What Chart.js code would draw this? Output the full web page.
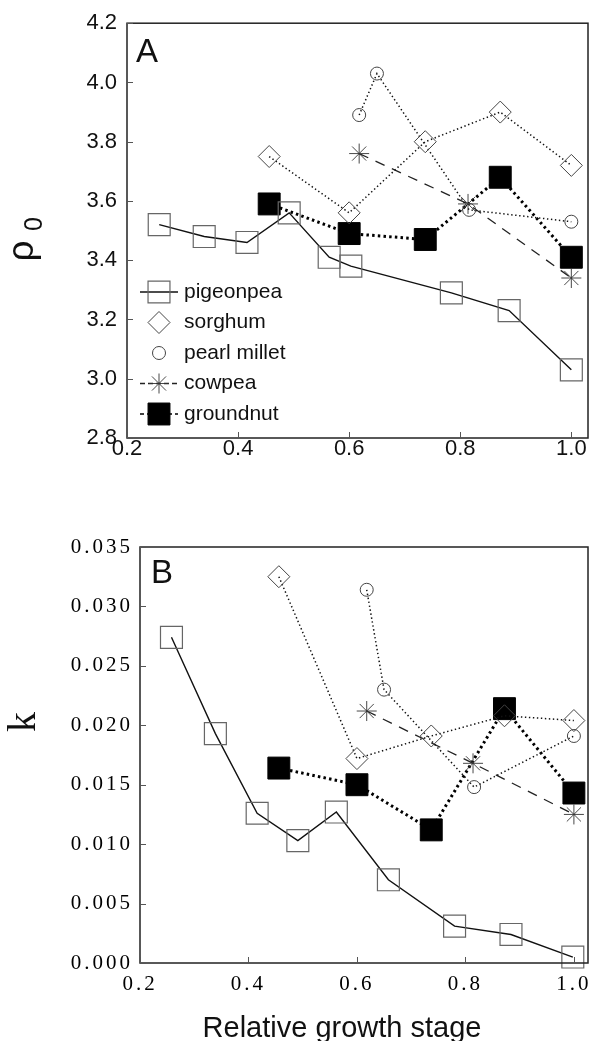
<!DOCTYPE html>
<html>
<head>
<meta charset="utf-8">
<script src="https://cdn.jsdelivr.net/npm/chart.js@4.4.1/dist/chart.umd.min.js"></script>
<style>
  html, body { margin: 0; padding: 0; background: #fff; }
  #wrap { position: relative; width: 590px; height: 1041px; overflow: hidden; }
  canvas { position: absolute; left: 0; }
  #chartA { top: 0; }
  #chartB { top: 490px; }
</style>
</head>
<body>
<div id="wrap">
  <canvas id="chartA" width="590" height="490"></canvas>
  <canvas id="chartB" width="590" height="551"></canvas>
</div>
<script>
// --- values ---
const SPECIES = ['pigeonpea', 'sorghum', 'pearl millet', 'cowpea', 'groundnut'];

const stageTicks = [0.2, 0.4, 0.6, 0.8, 1.0];
const rhoTicks = [2.8, 3.0, 3.2, 3.4, 3.6, 3.8, 4.0, 4.2];
const kTicks = [0, 0.005, 0.010, 0.015, 0.020, 0.025, 0.030, 0.035];

// relative growth stage (x)
const pigeonpeaStageA = [0.258, 0.339, 0.416, 0.492, 0.564, 0.603, 0.784, 0.888, 1.0];
const pigeonpeaStageB = [0.258, 0.339, 0.416, 0.491, 0.562, 0.658, 0.780, 0.884, 0.998];
const sorghumStage = [0.456, 0.600, 0.737, 0.872, 1.0];
const milletStage = [0.618, 0.650, 0.816, 1.0];
const cowpeaStage = [0.618, 0.814, 1.0];
const groundnutStage = [0.456, 0.600, 0.737, 0.872, 1.0];

// panel A: rho0
const pigeonpeaRho = [3.52, 3.48, 3.46, 3.56, 3.41, 3.38, 3.29, 3.23, 3.03];
const sorghumRho = [3.75, 3.56, 3.80, 3.90, 3.72];
const milletRho = [3.89, 4.03, 3.57, 3.53];
const cowpeaRho = [3.76, 3.59, 3.34];
const groundnutRho = [3.59, 3.49, 3.47, 3.68, 3.41];

// panel B: k
const pigeonpeaK = [0.0274, 0.0193, 0.0126, 0.0103, 0.0127, 0.0070, 0.0031, 0.0024, 0.0005];
const sorghumK = [0.0325, 0.0172, 0.0191, 0.0208, 0.0204];
const milletK = [0.0314, 0.0230, 0.0148, 0.0191];
const cowpeaK = [0.0212, 0.0168, 0.0125];
const groundnutK = [0.0164, 0.0150, 0.0112, 0.0214, 0.0143];

const xTitle = 'Relative growth stage';

// line + marker look for each species (same order as SPECIES)
const STYLES = [
  { line: '#111', width: 1.4, dash: [], point: 'rect', r: 15.5, fill: 'rgba(255,255,255,0)', edge: '#666', edgeW: 1.2, legendLine: true },
  { line: '#111', width: 1.5, dash: [1.4, 2.6], point: 'rectRot', r: 11, fill: 'rgba(255,255,255,0)', edge: '#444', edgeW: 1, legendLine: false },
  { line: '#111', width: 1.5, dash: [1.4, 2.6], point: 'circle', r: 6.5, fill: 'rgba(255,255,255,0)', edge: '#444', edgeW: 1, legendLine: false },
  { line: '#222', width: 1.3, dash: [10, 8], point: 'star', r: 10, fill: 'rgba(255,255,255,0)', edge: '#333', edgeW: 0.9, legendLine: true },
  { line: '#000', width: 3, dash: [2.5, 3.2], point: 'rect', r: 15.5, fill: '#000', edge: '#000', edgeW: 1, legendLine: true }
];

const SANS = "'Liberation Sans', Arial, sans-serif";
const SERIF = "'Liberation Serif', 'Times New Roman', serif";

function makeDatasets(stages, values) {
  return SPECIES.map((name, i) => {
    const s = STYLES[i];
    return {
      label: name,
      data: stages[i].map((x, j) => ({ x, y: values[i][j] })),
      borderColor: s.line,
      borderWidth: s.width,
      borderDash: s.dash,
      borderCapStyle: 'butt',
      pointStyle: s.point,
      pointRadius: s.r,
      pointHoverRadius: s.r,
      pointBackgroundColor: s.fill,
      pointBorderColor: s.edge,
      pointBorderWidth: s.edgeW,
      tension: 0,
      fill: false,
      clip: false
    };
  });
}

// box round the plot plus short inward tick marks
const framePlugin = {
  id: 'frame',
  afterDraw(chart) {
    const { ctx, chartArea: a, scales: { x, y } } = chart;
    ctx.save();
    ctx.letterSpacing = '0px';
    ctx.setLineDash([]);
    ctx.strokeStyle = '#222';
    ctx.lineWidth = 1.5;
    ctx.strokeRect(a.left, a.top, a.right - a.left, a.bottom - a.top);
    ctx.strokeStyle = '#555';
    ctx.lineWidth = 1;
    ctx.beginPath();
    y.ticks.forEach((t) => {
      const py = Math.round(y.getPixelForValue(t.value)) + 0.5;
      ctx.moveTo(a.left, py); ctx.lineTo(a.left + 6, py);
    });
    x.ticks.forEach((t) => {
      const px = Math.round(x.getPixelForValue(t.value)) + 0.5;
      ctx.moveTo(px, a.bottom); ctx.lineTo(px, a.bottom - 6);
    });
    ctx.stroke();
    ctx.restore();
  }
};

// legend drawn inside panel A, lower left
function drawLegend(chart) {
  const ctx = chart.ctx;
  const cx = 159, lx0 = 140, lx1 = 178, tx = 184;
  chart.data.datasets.forEach((ds, i) => {
    const yy = 292 + i * 30.5;
    const s = STYLES[i];
    ctx.save();
    if (s.legendLine) {
      ctx.strokeStyle = ds.borderColor;
      ctx.lineWidth = Math.min(ds.borderWidth, 1.5);
      ctx.setLineDash(i === 3 ? [5, 3] : i === 4 ? [4, 3] : []);
      ctx.beginPath();
      ctx.moveTo(lx0, yy); ctx.lineTo(lx1, yy);
      ctx.stroke();
    }
    ctx.setLineDash([]);
    ctx.fillStyle = ds.pointBackgroundColor;
    ctx.strokeStyle = ds.pointBorderColor;
    ctx.lineWidth = ds.pointBorderWidth;
    Chart.helpers.drawPoint(ctx, { pointStyle: ds.pointStyle, radius: ds.pointRadius, rotation: 0, borderWidth: ds.pointBorderWidth }, cx, yy);
    ctx.fillStyle = '#111';
    ctx.font = '21px ' + SANS;
    ctx.textAlign = 'left';
    ctx.textBaseline = 'middle';
    ctx.fillText(ds.label, tx, yy);
    ctx.restore();
  });
}

const decoA = {
  id: 'decoA',
  afterDraw(chart) {
    const ctx = chart.ctx;
    ctx.save();
    ctx.fillStyle = '#111';
    ctx.font = '33px ' + SANS;
    ctx.textBaseline = 'alphabetic';
    ctx.fillText('A', 136, 62);
    // rotated y title: rho with subscript 0
    ctx.translate(33, 251);
    ctx.rotate(-Math.PI / 2);
    ctx.textAlign = 'center';
    ctx.textBaseline = 'alphabetic';
    ctx.font = '37px ' + SANS;
    ctx.fillText('ρ', 0, 0);
    ctx.font = '25px ' + SANS;
    ctx.fillText('0', 27, 9);
    ctx.restore();
    drawLegend(chart);
  }
};

// panel B tick labels are a wide, spaced serif face
const decoB = {
  id: 'decoB',
  beforeDraw(chart) { chart.ctx.letterSpacing = '3px'; },
  afterDraw(chart) {
    const ctx = chart.ctx;
    ctx.letterSpacing = '0px';
    ctx.save();
    ctx.fillStyle = '#111';
    ctx.font = '33px ' + SANS;
    ctx.textBaseline = 'alphabetic';
    ctx.fillText('B', 151, 93);
    ctx.font = '29px ' + SANS;
    ctx.textAlign = 'center';
    ctx.fillText(xTitle, 342, 547);
    ctx.translate(24, 232);
    ctx.rotate(-Math.PI / 2);
    ctx.textBaseline = 'middle';
    ctx.font = '40px ' + SERIF;
    ctx.fillText('k', 0, 0);
    ctx.restore();
  }
};

function baseOptions() {
  return {
    responsive: false,
    animation: false,
    devicePixelRatio: 1,
    events: [],
    plugins: { legend: { display: false }, tooltip: { enabled: false } }
  };
}

// ---- panel A ----
const optA = baseOptions();
optA.layout = { autoPadding: false, padding: { top: 21, right: 2, left: 0, bottom: 0 } };
optA.scales = {
  x: {
    type: 'linear', min: 0.2, max: 1.03,
    afterBuildTicks: (s) => { s.ticks = stageTicks.map((v) => ({ value: v })); },
    afterFit: (s) => { s.height = 52; s.paddingLeft = 0; s.paddingRight = 0; },
    grid: { display: false, drawTicks: false }, border: { display: false },
    ticks: { callback: (v) => v.toFixed(1), font: { family: SANS, size: 22, lineHeight: 1 }, color: '#111', padding: 0, maxRotation: 0, autoSkip: false }
  },
  y: {
    type: 'linear', min: 2.8, max: 4.2,
    afterBuildTicks: (s) => { s.ticks = rhoTicks.map((v) => ({ value: v })); },
    afterFit: (s) => { s.width = 127; },
    grid: { display: false, drawTicks: false }, border: { display: false },
    ticks: { callback: (v) => v.toFixed(1), font: { family: SANS, size: 22 }, color: '#111', padding: 10, autoSkip: false }
  }
};

new Chart(document.getElementById('chartA'), {
  type: 'line',
  data: { datasets: makeDatasets(
    [pigeonpeaStageA, sorghumStage, milletStage, cowpeaStage, groundnutStage],
    [pigeonpeaRho, sorghumRho, milletRho, cowpeaRho, groundnutRho]) },
  options: optA,
  plugins: [framePlugin, decoA]
});

// ---- panel B ----
const optB = baseOptions();
optB.layout = { autoPadding: false, padding: { top: 57, right: 2, left: 0, bottom: 0 } };
optB.scales = {
  x: {
    type: 'linear', min: 0.2, max: 1.026,
    afterBuildTicks: (s) => { s.ticks = stageTicks.map((v) => ({ value: v })); },
    afterFit: (s) => { s.height = 78; s.paddingLeft = 0; s.paddingRight = 0; },
    grid: { display: false, drawTicks: false }, border: { display: false },
    ticks: { callback: (v) => v.toFixed(1), font: { family: SERIF, size: 21 }, color: '#000', padding: 9, maxRotation: 0, autoSkip: false }
  },
  y: {
    type: 'linear', min: 0, max: 0.035,
    afterBuildTicks: (s) => { s.ticks = kTicks.map((v) => ({ value: v })); },
    afterFit: (s) => { s.width = 140; },
    grid: { display: false, drawTicks: false }, border: { display: false },
    ticks: { callback: (v) => v.toFixed(3), font: { family: SERIF, size: 21 }, color: '#000', padding: 7, autoSkip: false }
  }
};

new Chart(document.getElementById('chartB'), {
  type: 'line',
  data: { datasets: makeDatasets(
    [pigeonpeaStageB, sorghumStage, milletStage, cowpeaStage, groundnutStage],
    [pigeonpeaK, sorghumK, milletK, cowpeaK, groundnutK]) },
  options: optB,
  plugins: [framePlugin, decoB]
});
</script>
</body>
</html>
